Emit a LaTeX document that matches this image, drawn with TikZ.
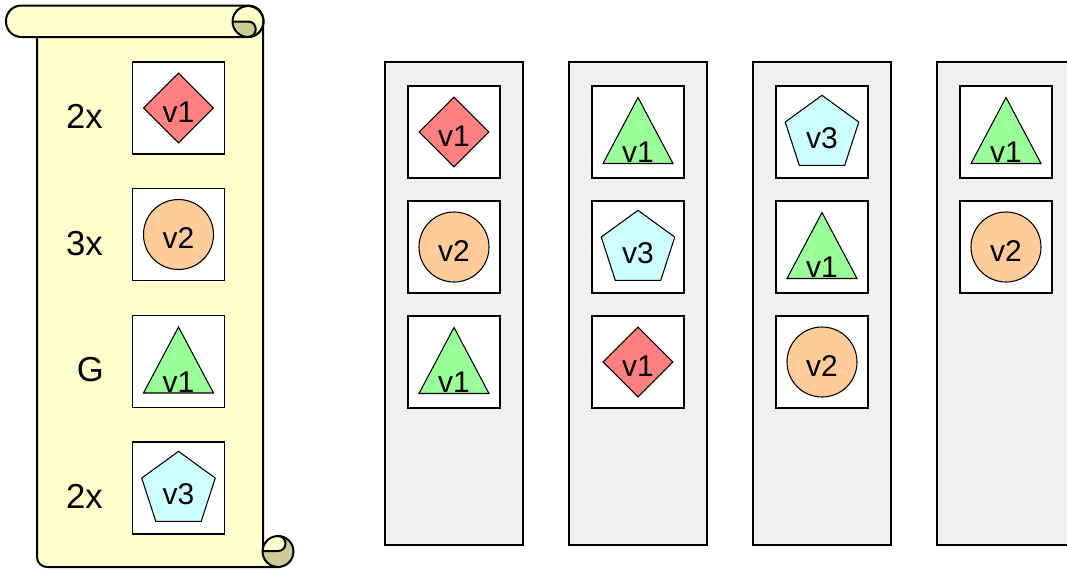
\documentclass[tikz,border=0pt]{standalone}
\usepackage{fontspec}
\setmainfont{Liberation Sans}
\usetikzlibrary{shapes.geometric}

\definecolor{scrollyellow}{HTML}{FFFFCC}
\definecolor{scrollcurl}{HTML}{CCCC99}
\definecolor{rackgray}{HTML}{F0F0F0}
\definecolor{vred}{HTML}{FF8080}
\definecolor{vorange}{HTML}{FFCC99}
\definecolor{vgreen}{HTML}{99FF99}
\definecolor{vcyan}{HTML}{CCFFFF}

\tikzset{
  vtext/.style={font=\fontsize{22.5}{26}\selectfont, text height=21pt, text depth=0pt, inner sep=0pt},
  slot/.style={draw, line width=1.2pt, fill=white, minimum size=69pt, inner sep=0pt},
  rack/.style={draw, line width=1.3pt, fill=rackgray, minimum width=103.5pt, minimum height=362.25pt, inner sep=0pt},
  vdiam/.style={vtext, diamond, draw, line width=0.8pt, fill=vred, minimum size=52.5pt},
  vcirc/.style={vtext, circle, draw, line width=0.8pt, fill=vorange, minimum size=52.5pt},
  vpent/.style={vtext, regular polygon, regular polygon sides=5, draw, line width=0.8pt, fill=vcyan, minimum size=58pt},
  vtri/.style={draw, line width=0.8pt, fill=vgreen, line join=miter},
  count/.style={font=\fontsize{26}{30}\selectfont, anchor=base east, inner sep=0pt},
  scroll/.style={draw, line width=1.5pt, fill=scrollyellow}
}

% green triangle with its v1 inside a slot
\newcommand{\vtriangle}[1]{%
  \draw[vtri] (#1.center) ++(-35,31.5) -- ++(35,-66) -- ++(35,66) -- cycle;
  \node[vtext] (#1-v) at ([yshift=-12.6pt]#1.center) {v1};}

\begin{document}
\begin{tikzpicture}[x=0.75pt, y=-0.75pt]
    \useasboundingbox (0,0) rectangle (1067,569);
    \clip (0,0) rectangle (1067,569);

    % Scroll body
    \path[scroll] (37,21) -- (37,557) .. controls (37,562.5) and (41.5,567) .. (47,567)
        -- (278,567) -- (278,551) -- (263,551) -- (263,21) -- cycle;

    % Bottom roll
    \fill[scrollcurl] (278,551.5) circle[radius=11.6pt];
    \begin{scope}
        \clip (278,551.5) circle[radius=11.6pt];
        \fill[scrollyellow] (262,536) -- (278,536) .. controls (288,536) and (288,551) .. (278,551) -- (262,551) -- cycle;
    \end{scope}
    \draw[line width=1.5pt] (263,551) -- (278,551) .. controls (288,551) and (288,536) .. (278,536);
    \draw[line width=1.5pt] (278,551.5) circle[radius=11.6pt];

    % Top roll
    \draw[scroll, rounded corners=11.5pt] (6,5.5) rectangle (263.5,37);
    \begin{scope}
        \clip (248,21.5) circle[radius=11.6pt];
        \fill[scrollcurl] (230,21.5) -- (248,21.5) .. controls (258.3,21.5) and (258.3,37) .. (248,37) -- (230,37) -- cycle;
    \end{scope}
    \draw[line width=1.5pt] (232.5,21.5) -- (248,21.5) .. controls (258.3,21.5) and (258.3,37) .. (248,37);
    \draw[line width=1.5pt] (248,21.5) circle[radius=11.6pt];

    % Scroll slots
    \node[slot] (s1) at (178.5,108) {};
    \node[slot] (s2) at (178.5,234.5) {};
    \node[slot] (s3) at (178.5,361.5) {};
    \node[slot] (s4) at (178.5,488) {};

    \node[vdiam] (s1-v) at (s1) {v1};
    \node[vcirc] (s2-v) at (s2) {v2};
    \vtriangle{s3}
    \node[vpent] (s4-v) at ([yshift=-1.5pt]s4.center) {v3};

    % Counts
    \node[count] (n1) at (103,128) {2x};
    \node[count] (n2) at (103,255) {3x};
    \node[count] (n3) at (104,381) {G};
    \node[count] (n4) at (103,508) {2x};

    % Racks
    \node[rack] (rack1) at (454,303.5) {};
    \node[rack] (rack2) at (638,303.5) {};
    \node[rack] (rack3) at (822,303.5) {};
    \node[rack] (rack4) at (1006,303.5) {};

    % Rack 1
    \node[slot] (r1a) at (454,132) {};
    \node[slot] (r1b) at (454,247) {};
    \node[slot] (r1c) at (454,362) {};
    \node[vdiam] (r1a-v) at (r1a) {v1};
    \node[vcirc] (r1b-v) at (r1b) {v2};
    \vtriangle{r1c}

    % Rack 2
    \node[slot] (r2a) at (638,132) {};
    \node[slot] (r2b) at (638,247) {};
    \node[slot] (r2c) at (638,362) {};
    \vtriangle{r2a}
    \node[vpent] (r2b-v) at ([yshift=-1.5pt]r2b.center) {v3};
    \node[vdiam] (r2c-v) at (r2c) {v1};

    % Rack 3
    \node[slot] (r3a) at (822,132) {};
    \node[slot] (r3b) at (822,247) {};
    \node[slot] (r3c) at (822,362) {};
    \node[vpent] (r3a-v) at ([yshift=-1.5pt]r3a.center) {v3};
    \vtriangle{r3b}
    \node[vcirc] (r3c-v) at (r3c) {v2};

    % Rack 4
    \node[slot] (r4a) at (1006,132) {};
    \node[slot] (r4b) at (1006,247) {};
    \vtriangle{r4a}
    \node[vcirc] (r4b-v) at (r4b) {v2};

\end{tikzpicture}
\end{document}
